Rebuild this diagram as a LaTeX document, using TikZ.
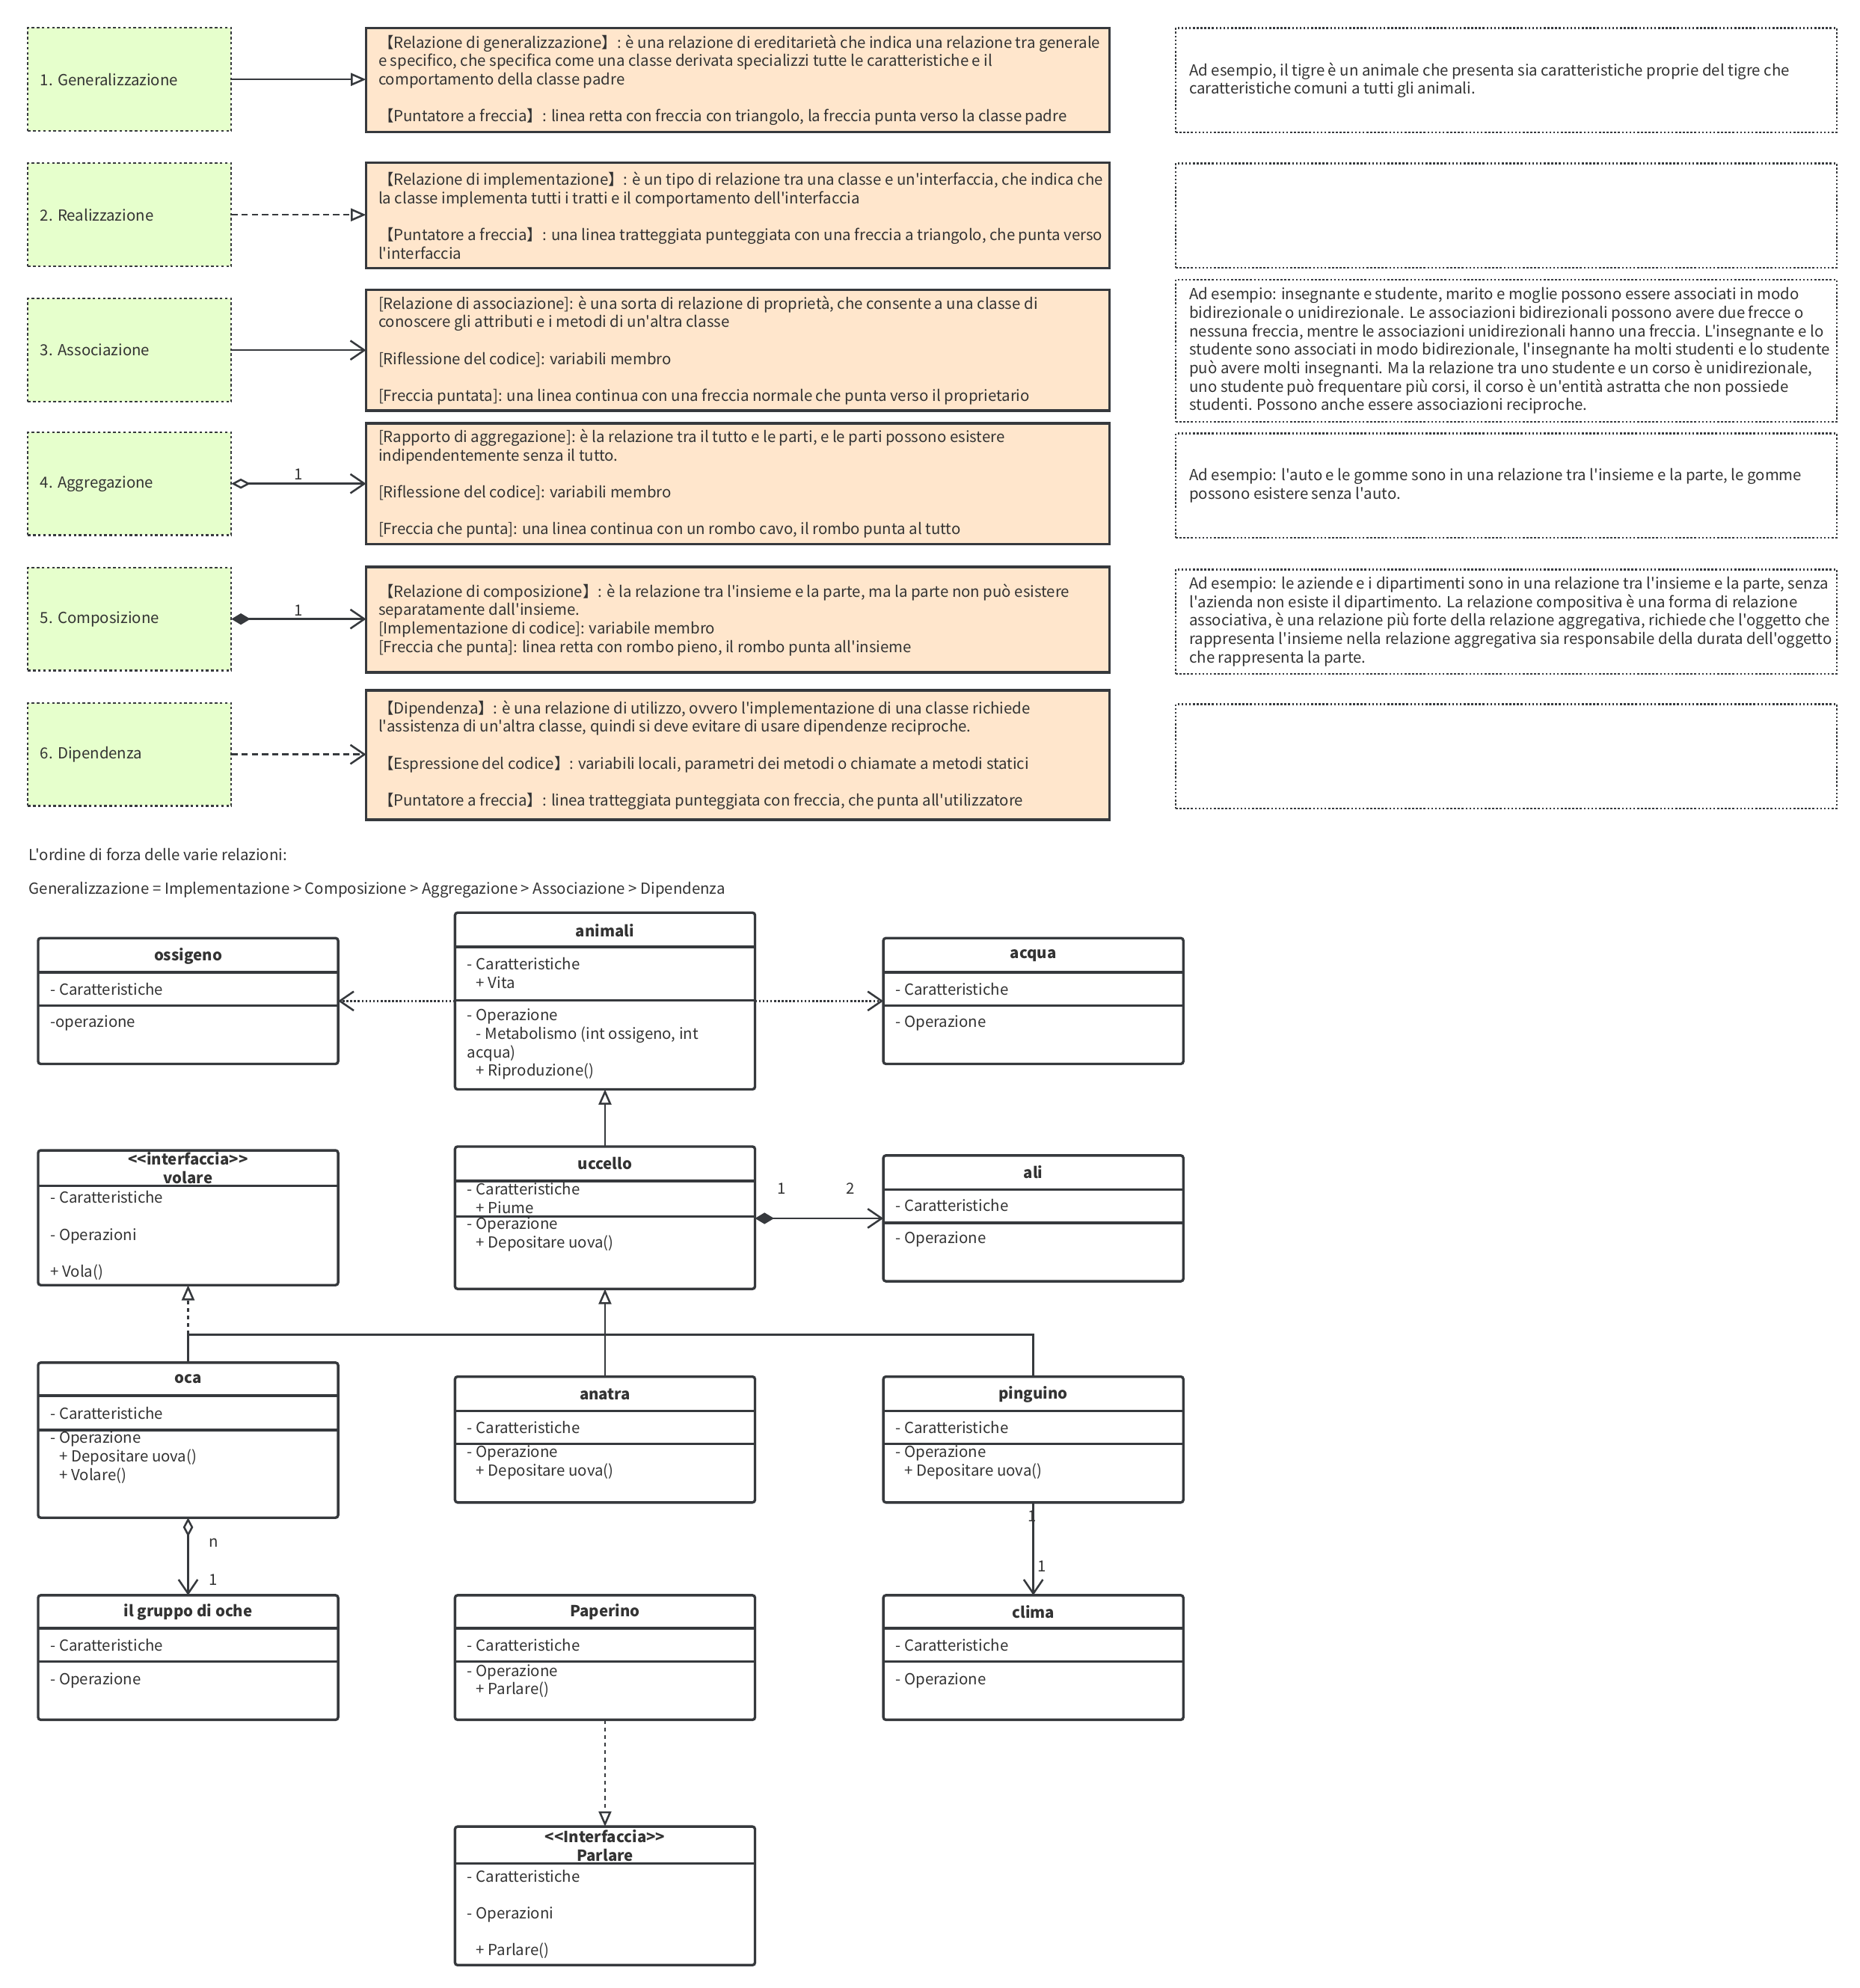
\documentclass[tikz,border=0pt]{standalone}
\usepackage{fontspec}
\setmainfont{Noto Sans CJK SC}[Ligatures=TeXOff]
\usetikzlibrary{arrows.meta}

\definecolor{lineGray}{HTML}{36393D}
\definecolor{textGray}{HTML}{333333}
\definecolor{greenFill}{HTML}{E6FFCC}
\definecolor{orangeFill}{HTML}{FFE6CC}

\tikzset{every picture/.style={line width=1.5pt},
  txt/.style={font=\fontsize{12}{14.5}\selectfont, text=textGray, inner sep=0pt, align=left},
  ttl/.style={txt, font=\fontsize{12}{14.5}\selectfont\bfseries, align=center},
  kindbox/.style={draw=lineGray, fill=greenFill, dash pattern=on 2pt off 2pt, line width=1.3pt, anchor=north west, inner sep=0pt, outer sep=0pt, minimum width=160pt, minimum height=81pt},
  relbox/.style={draw=lineGray, fill=orangeFill, line width=2pt, anchor=north west, inner sep=0pt, outer sep=0pt, minimum width=585pt},
  notebox/.style={draw=lineGray, dash pattern=on 1.5pt off 1.5pt, line width=1.4pt, anchor=north west, inner sep=0pt, outer sep=0pt, minimum width=520pt},
  umlbox/.style={draw=lineGray, fill=white, rounded corners=2pt, line width=2pt, anchor=north west, inner sep=0pt, outer sep=0pt, minimum width=236pt},
  vtip/.style={-{Straight Barb[length=11pt,width=15pt]}},
  ttip/.style={-{Triangle[open,length=12pt,width=10pt]}},
  genline/.style={draw=lineGray, ttip},
  realline/.style={draw=lineGray, ttip, dash pattern=on 5pt off 3pt},
  assocline/.style={draw=lineGray, vtip},
  aggline/.style={draw=lineGray, {Diamond[open,length=15pt,width=8pt]}-{Straight Barb[length=11pt,width=15pt]}},
  compline/.style={draw=lineGray, {Diamond[length=15pt,width=9pt]}-{Straight Barb[length=11pt,width=15pt]}},
  depline/.style={draw=lineGray, vtip, dash pattern=on 5pt off 3pt},
  useline/.style={draw=lineGray, vtip, dash pattern=on 1.5pt off 1.5pt},
  implline/.style={draw=lineGray, ttip, dash pattern=on 3pt off 3pt},
  sepline/.style={draw=lineGray, line width=2pt}
}

\begin{document}
\begin{tikzpicture}[x=1pt,y=1pt,yscale=-1,xscale=1]
\useasboundingbox (0,0) rectangle (1463,1564);

%Shape: Rectangle
\node[kindbox] (gA) at (22,22) {};
\node[kindbox] (gB) at (22,128.5) {};
\node[kindbox] (gC) at (22,235) {};
\node[kindbox] (gD) at (22,340) {};
\node[kindbox] (gE) at (22,446.5) {};
\node[kindbox] (gF) at (22,553) {};

% Text Node
\node[txt, anchor=west] (gAt) at ([xshift=9pt]gA.west) {1. Generalizzazione};
\node[txt, anchor=west] (gBt) at ([xshift=9pt]gB.west) {2. Realizzazione};
\node[txt, anchor=west] (gCt) at ([xshift=9pt]gC.west) {3. Associazione};
\node[txt, anchor=west] (gDt) at ([xshift=9pt]gD.west) {4. Aggregazione};
\node[txt, anchor=west] (gEt) at ([xshift=9pt]gE.west) {5. Composizione};
\node[txt, anchor=west] (gFt) at ([xshift=9pt]gF.west) {6. Dipendenza};

%Shape: Rectangle
\node[relbox, minimum height=82pt] (relA) at (288,22) {};
\node[relbox, minimum height=83pt] (relB) at (288,128) {};
\node[relbox, minimum height=95pt] (relC) at (288,228) {};
\node[relbox, minimum height=95pt] (relD) at (288,333) {};
\node[relbox, minimum height=83pt] (relE) at (288,446) {};
\node[relbox, minimum height=102pt] (relF) at (288,543) {};

% Text Node
\node[txt, anchor=west] (relAt) at ([xshift=9pt]relA.west) {【Relazione di generalizzazione】: è una relazione di ereditarietà che indica una relazione tra generale\\
e specifico, che specifica come una classe derivata specializzi tutte le caratteristiche e il\\
comportamento della classe padre\\[14.5pt]
【Puntatore a freccia】: linea retta con freccia con triangolo, la freccia punta verso la classe padre};
% Text Node
\node[txt, anchor=west] (relBt) at ([xshift=9pt]relB.west) {【Relazione di implementazione】: è un tipo di relazione tra una classe e un'interfaccia, che indica che\\
la classe implementa tutti i tratti e il comportamento dell'interfaccia\\[14.5pt]
【Puntatore a freccia】: una linea tratteggiata punteggiata con una freccia a triangolo, che punta verso\\
l'interfaccia};
% Text Node
\node[txt, anchor=west] (relCt) at ([xshift=9pt]relC.west) {[Relazione di associazione]: è una sorta di relazione di proprietà, che consente a una classe di\\
conoscere gli attributi e i metodi di un'altra classe\\[14.5pt]
{[}Riflessione del codice{]}: variabili membro\\[14.5pt]
{[}Freccia puntata{]}: una linea continua con una freccia normale che punta verso il proprietario};
% Text Node
\node[txt, anchor=west] (relDt) at ([xshift=9pt]relD.west) {[Rapporto di aggregazione]: è la relazione tra il tutto e le parti, e le parti possono esistere\\
indipendentemente senza il tutto.\\[14.5pt]
{[}Riflessione del codice{]}: variabili membro\\[14.5pt]
{[}Freccia che punta{]}: una linea continua con un rombo cavo, il rombo punta al tutto};
% Text Node
\node[txt, anchor=west] (relEt) at ([xshift=9pt]relE.west) {【Relazione di composizione】: è la relazione tra l'insieme e la parte, ma la parte non può esistere\\
separatamente dall'insieme.\\
{[}Implementazione di codice{]}: variabile membro\\
{[}Freccia che punta{]}: linea retta con rombo pieno, il rombo punta all'insieme};
% Text Node
\node[txt, anchor=west] (relFt) at ([xshift=9pt]relF.west) {【Dipendenza】: è una relazione di utilizzo, ovvero l'implementazione di una classe richiede\\
l'assistenza di un'altra classe, quindi si deve evitare di usare dipendenze reciproche.\\[14.5pt]
【Espressione del codice】: variabili locali, parametri dei metodi o chiamate a metodi statici\\[14.5pt]
【Puntatore a freccia】: linea tratteggiata punteggiata con freccia, che punta all'utilizzatore};

%Straight Lines
\draw[genline] (gA.east) -- (relA.west |- gA.east);
\draw[realline] (gB.east) -- (relB.west |- gB.east);
\draw[assocline] (gC.east) -- (relC.west |- gC.east);
\draw[aggline] (gD.east) -- (relD.west |- gD.east);
\draw[compline] (gE.east) -- (relE.west |- gE.east);
\draw[depline] (gF.east) -- (relF.west |- gF.east);
% Text Node
\node[txt] (mulD) at (235,373) {1};
\node[txt] (mulE) at (235,480) {1};

%Shape: Rectangle
\node[notebox, minimum height=82pt] (exA) at (925,22) {};
\node[notebox, minimum height=82pt] (exB) at (925,128.5) {};
\node[notebox, minimum height=112pt] (exC) at (925,220) {};
\node[notebox, minimum height=82pt] (exD) at (925,341) {};
\node[notebox, minimum height=82pt] (exE) at (925,448) {};
\node[notebox, minimum height=82pt] (exF) at (925,554) {};

% Text Node
\node[txt, anchor=west] (exAt) at ([xshift=10pt]exA.west) {Ad esempio, il tigre è un animale che presenta sia caratteristiche proprie del tigre che\\
caratteristiche comuni a tutti gli animali.};
% Text Node
\node[txt, anchor=west] (exCt) at ([xshift=10pt]exC.west) {Ad esempio: insegnante e studente, marito e moglie possono essere associati in modo\\
bidirezionale o unidirezionale. Le associazioni bidirezionali possono avere due frecce o\\
nessuna freccia, mentre le associazioni unidirezionali hanno una freccia. L'insegnante e lo\\
studente sono associati in modo bidirezionale, l'insegnante ha molti studenti e lo studente\\
può avere molti insegnanti. Ma la relazione tra uno studente e un corso è unidirezionale,\\
uno studente può frequentare più corsi, il corso è un'entità astratta che non possiede\\
studenti. Possono anche essere associazioni reciproche.};
% Text Node
\node[txt, anchor=west] (exDt) at ([xshift=10pt]exD.west) {Ad esempio: l'auto e le gomme sono in una relazione tra l'insieme e la parte, le gomme\\
possono esistere senza l'auto.};
% Text Node
\node[txt, anchor=west] (exEt) at ([xshift=10pt]exE.west) {Ad esempio: le aziende e i dipartimenti sono in una relazione tra l'insieme e la parte, senza\\
l'azienda non esiste il dipartimento. La relazione compositiva è una forma di relazione\\
associativa, è una relazione più forte della relazione aggregativa, richiede che l'oggetto che\\
rappresenta l'insieme nella relazione aggregativa sia responsabile della durata dell'oggetto\\
che rappresenta la parte.};

% Text Node
\node[txt, anchor=west] (order) at (22,672) {L'ordine di forza delle varie relazioni:};
\node[txt, anchor=west] (ranking) at (22,700) {Generalizzazione = Implementazione > Composizione > Aggregazione > Associazione > Dipendenza};

%Shape: Class boxes
\node[umlbox, minimum height=99pt] (ossigeno) at (30,738) {};
\node[umlbox, minimum height=139pt] (animali) at (358,718) {};
\node[umlbox, minimum height=99pt] (acqua) at (695,738) {};
\node[umlbox, minimum height=106pt] (volare) at (30,905) {};
\node[umlbox, minimum height=112pt] (uccello) at (358,902) {};
\node[umlbox, minimum height=99pt] (ali) at (695,909) {};
\node[umlbox, minimum height=122pt] (oca) at (30,1072) {};
\node[umlbox, minimum height=99pt] (anatra) at (358,1083) {};
\node[umlbox, minimum height=99pt] (pinguino) at (695,1083) {};
\node[umlbox, minimum height=98pt] (gruppo) at (30,1255) {};
\node[umlbox, minimum height=98pt] (paperino) at (358,1255) {};
\node[umlbox, minimum height=98pt] (clima) at (695,1255) {};
\node[umlbox, minimum height=109pt] (parlare) at (358,1437) {};

%Straight Lines: compartments
\draw[sepline] (30,765) -- (266,765) (30,791) -- (266,791);
\draw[sepline] (358,745) -- (594,745) (358,787) -- (594,787);
\draw[sepline] (695,765) -- (931,765) (695,791) -- (931,791);
\draw[sepline] (30,933) -- (266,933);
\draw[sepline] (358,929) -- (594,929) (358,957) -- (594,957);
\draw[sepline] (695,936) -- (931,936) (695,962) -- (931,962);
\draw[sepline] (30,1098) -- (266,1098) (30,1125) -- (266,1125);
\draw[sepline] (358,1110) -- (594,1110) (358,1136) -- (594,1136);
\draw[sepline] (695,1110) -- (931,1110) (695,1136) -- (931,1136);
\draw[sepline] (30,1281) -- (266,1281) (30,1307) -- (266,1307);
\draw[sepline] (358,1281) -- (594,1281) (358,1307) -- (594,1307);
\draw[sepline] (695,1281) -- (931,1281) (695,1307) -- (931,1307);
\draw[sepline] (358,1466) -- (594,1466);

% Text Node
\node[ttl] (ossigenoN) at (148,752) {ossigeno};
\node[txt, anchor=west] (ossigenoA) at (39,778) {- Caratteristiche};
\node[txt, anchor=west] (ossigenoO) at (39,805) {-operazione};
% Text Node
\node[ttl] (animaliN) at (476,732) {animali};
\node[txt, anchor=west] (animaliA) at (367,765.5) {- Caratteristiche\\\hspace{7pt}+ Vita};
\node[txt, anchor=west] (animaliO) at (367,821.5) {- Operazione\\\hspace{7pt}- Metabolismo (int ossigeno, int\\acqua)\\\hspace{7pt}+ Riproduzione()};
% Text Node
\node[ttl] (acquaN) at (813,752) {acqua};
\node[txt, anchor=west] (acquaA) at (704,778) {- Caratteristiche};
\node[txt, anchor=west] (acquaO) at (704,805) {- Operazione};
% Text Node
\node[ttl] (volareN) at (148,919) {<<interfaccia>>\\volare};
\node[txt, anchor=west] (volareB) at (39,972) {- Caratteristiche\\[14.5pt]- Operazioni\\[14.5pt]+ Vola()};
% Text Node
\node[ttl] (uccelloN) at (476,915) {uccello};
\node[txt, anchor=west] (uccelloA) at (367,942.5) {- Caratteristiche\\\hspace{7pt}+ Piume};
\node[txt, anchor=west] (uccelloO) at (367,971) {- Operazione\\\hspace{7pt}+ Depositare uova()};
% Text Node
\node[ttl] (aliN) at (813,922) {ali};
\node[txt, anchor=west] (aliA) at (704,948) {- Caratteristiche};
\node[txt, anchor=west] (aliO) at (704,975) {- Operazione};
% Text Node
\node[ttl] (ocaN) at (148,1085) {oca};
\node[txt, anchor=west] (ocaA) at (39,1112) {- Caratteristiche};
\node[txt, anchor=west] (ocaO) at (39,1146.5) {- Operazione\\\hspace{7pt}+ Depositare uova()\\\hspace{7pt}+ Volare()};
% Text Node
\node[ttl] (anatraN) at (476,1097) {anatra};
\node[txt, anchor=west] (anatraA) at (367,1123) {- Caratteristiche};
\node[txt, anchor=west] (anatraO) at (367,1150.5) {- Operazione\\\hspace{7pt}+ Depositare uova()};
% Text Node
\node[ttl] (pinguinoN) at (813,1097) {pinguino};
\node[txt, anchor=west] (pinguinoA) at (704,1123) {- Caratteristiche};
\node[txt, anchor=west] (pinguinoO) at (704,1150.5) {- Operazione\\\hspace{7pt}+ Depositare uova()};
% Text Node
\node[ttl] (gruppoN) at (148,1268) {il gruppo di oche};
\node[txt, anchor=west] (gruppoA) at (39,1294) {- Caratteristiche};
\node[txt, anchor=west] (gruppoO) at (39,1322) {- Operazione};
% Text Node
\node[ttl] (paperinoN) at (476,1268) {Paperino};
\node[txt, anchor=west] (paperinoA) at (367,1294) {- Caratteristiche};
\node[txt, anchor=west] (paperinoO) at (367,1322.5) {- Operazione\\\hspace{7pt}+ Parlare()};
% Text Node
\node[ttl] (climaN) at (813,1268) {clima};
\node[txt, anchor=west] (climaA) at (704,1294) {- Caratteristiche};
\node[txt, anchor=west] (climaO) at (704,1322) {- Operazione};
% Text Node
\node[ttl] (parlareN) at (476,1452) {<<Interfaccia>>\\Parlare};
\node[txt, anchor=west] (parlareB) at (367,1506) {- Caratteristiche\\[14.5pt]- Operazioni\\[14.5pt]\hspace{7pt}+ Parlare()};

%Straight Lines: relations
\coordinate (bus) at (476,1050);
\draw[useline] (animali.west |- ossigeno.east) -- (ossigeno.east);
\draw[useline] (animali.east |- acqua.west) -- (acqua.west);
\draw[genline] (uccello.north) -- (animali.south);
\draw[compline] (uccello.east |- ali.west) -- (ali.west);
\draw[genline] (anatra.north) -- (uccello.south);
\draw[lineGray] (oca.north) |- (bus);
\draw[lineGray] (pinguino.north) |- (bus);
\draw[implline] (oca.north |- bus) -- (volare.south);
\draw[aggline] (oca.south) -- (gruppo.north);
\draw[assocline] (pinguino.south) -- (clima.north);
\draw[implline] (paperino.south) -- (parlare.north);

% Text Node
\node[txt] (mulUA) at (615,935) {1};
\node[txt] (mulUB) at (669,935) {2};
\node[txt] (mulOG) at (168,1214) {n};
\node[txt] (mulGO) at (168,1243) {1};
\node[txt] (mulPC) at (812,1193) {1};
\node[txt] (mulCP) at (820,1232) {1};

\end{tikzpicture}
\end{document}
